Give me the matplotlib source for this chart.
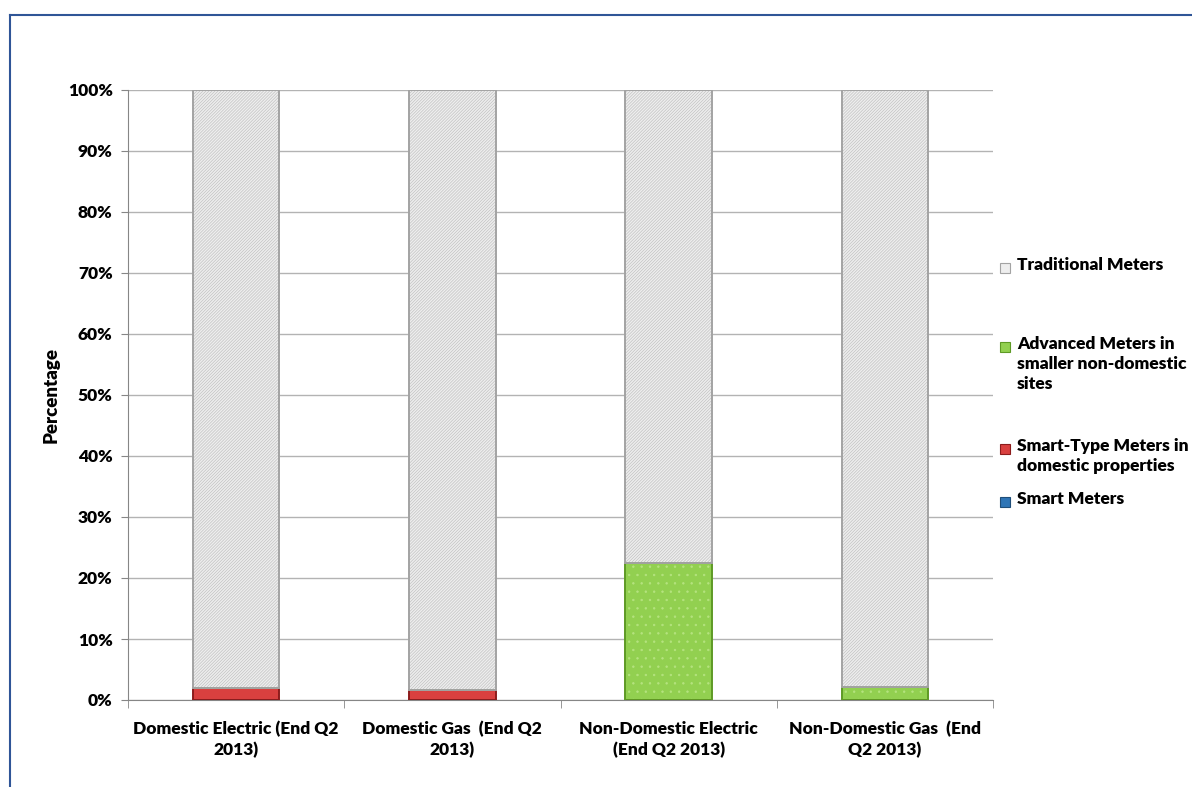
import matplotlib
matplotlib.use("Agg")
import matplotlib.pyplot as plt
from matplotlib.patches import Rectangle
from matplotlib.lines import Line2D
import numpy as np

plt.rcParams['font.family'] = ['Lato', 'DejaVu Sans']
plt.rcParams['font.weight'] = 'heavy'
plt.rcParams['hatch.linewidth'] = 0.5

categories = ["Domestic Electric (End Q2\n2013)", "Domestic Gas  (End Q2\n2013)",
              "Non-Domestic Electric\n(End Q2 2013)", "Non-Domestic Gas  (End\nQ2 2013)"]
smart_meters = [0.0, 0.0, 0.0, 0.0]
smart_type_domestic = [2.0, 1.6, 0.0, 0.0]
advanced_nondomestic = [0.0, 0.0, 22.4, 2.1]
traditional = [98.0, 98.4, 77.6, 97.9]

series_names = ["Smart Meters", "Smart-Type Meters in\ndomestic properties",
                "Advanced Meters in\nsmaller non-domestic\nsites", "Traditional Meters"]
series_values = [smart_meters, smart_type_domestic, advanced_nondomestic, traditional]
face_colors = ["#2e75b6", "#d9403f", "#92d050", "#eeeeee"]
hatch_colors = ["#2e75b6", "#d9403f", "#b5e37f", "#c2c2c2"]
hatches = [None, None, "..", "/" * 11]
edge_colors = ["#1f4e79", "#8c1c1c", "#5e9a25", "#a3a3a3"]

fw = 'heavy'
fs = 12.5

fig = plt.figure(figsize=(11.92, 7.87), dpi=100)
ax = fig.add_axes([128/1192, 1-700/787, (993-128)/1192, (700-90)/787])

x = np.arange(len(categories))
width = 0.40
bottom = np.zeros(len(categories))
for vals, fc, hc, h, ec in zip(series_values, face_colors, hatch_colors, hatches, edge_colors):
    vals = np.array(vals)
    ax.bar(x, vals, width, bottom=bottom, color=fc, edgecolor=hc, hatch=h, linewidth=0, zorder=2)
    ax.bar(x, vals, width, bottom=bottom, fill=False, edgecolor=ec, linewidth=1.4, zorder=3)
    bottom += vals

ax.set_xlim(-0.5, len(categories) - 0.5)
ax.set_ylim(0, 100)
ax.set_yticks(np.arange(0, 101, 10))
ax.set_yticklabels([f"{v}%" for v in range(0, 101, 10)], fontsize=fs, fontweight=fw)
ax.set_xticks(x)
ax.set_xticklabels(categories, fontsize=fs, fontweight=fw, linespacing=1.35)
ax.tick_params(axis='x', length=0, pad=15)
ax.tick_params(axis='y', length=5, color='#868686', pad=6)
# category boundary ticks
ax.set_xticks(np.arange(-0.5, len(categories), 1.0), minor=True)
ax.tick_params(axis='x', which='minor', length=6, color='#868686')
ax.yaxis.grid(True, color='#b3b3b3', linewidth=1)
ax.set_axisbelow(True)
for s in ['top', 'right']:
    ax.spines[s].set_visible(False)
ax.spines['left'].set_color('#868686')
ax.spines['bottom'].set_color('#868686')
ax.set_ylabel("Percentage", fontsize=13.5, fontweight=fw, labelpad=6)

# legend (Excel-style placement, handle at first line)
leg_y = [502, 449, 347, 268]
for name, fc, ec, yy in zip(series_names, face_colors, edge_colors, leg_y):
    fig.patches.append(Rectangle((1000/1192, 1-(yy+5)/787), 10/1192, 10/787,
                                 transform=fig.transFigure, facecolor=fc, edgecolor=ec, linewidth=0.8))
    fig.text(1017/1192, 1-(yy-11)/787, name, fontsize=fs, fontweight=fw, va='top', ha='left',
             linespacing=1.3)

# outer border
fig.add_artist(Line2D([10/1192, 10/1192], [0, 1-15/787], transform=fig.transFigure, color='#2f5597', linewidth=1.5))
fig.add_artist(Line2D([10/1192, 1], [1-15/787, 1-15/787], transform=fig.transFigure, color='#2f5597', linewidth=1.5))

fig.savefig("out.png", dpi=100)
